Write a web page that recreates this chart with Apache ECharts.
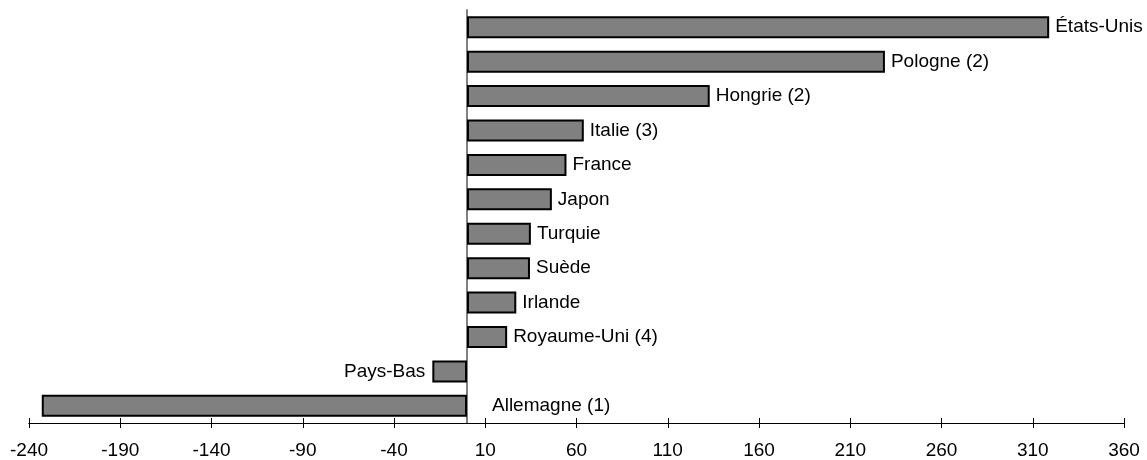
<!DOCTYPE html>
<html>
<head>
<meta charset="utf-8">
<script src="https://cdn.jsdelivr.net/npm/echarts@6/dist/echarts.min.js"></script>
<style>
html,body{margin:0;padding:0;background:#fff;}
#c{width:1147px;height:460px;}
</style>
</head>
<body>
<div id="c"></div>
<script>
const categories = ['États-Unis','Pologne (2)','Hongrie (2)','Italie (3)','France','Japon','Turquie','Suède','Irlande','Royaume-Uni (4)','Pays-Bas','Allemagne (1)'];
const values = [319, 229, 133, 64, 54.5, 46.5, 35, 34.5, 27, 22, -19, -233];
const xMin = -240, xMax = 360, xStep = 50;

const font = '"Liberation Sans", Arial, sans-serif';
const labelPlacement = {
  'Pays-Bas': {position: 'left', distance: 7},
  'Allemagne (1)': {position: 'right', distance: 25}
};
const data = categories.map((c, i) => {
  const lp = labelPlacement[c] || {position: 'right', distance: 6};
  return {value: values[i], name: c, label: {show: true, position: lp.position, distance: lp.distance}};
});

const chart = echarts.init(document.getElementById('c'), null, {renderer: 'canvas'});
const axisCommon = {
  type: 'value', min: xMin, max: xMax, interval: xStep, position: 'bottom',
  splitLine: {show: false},
  axisLine: {show: true, onZero: false, lineStyle: {color: '#000', width: 1}}
};
chart.setOption({
  animation: false,
  grid: {left: 29, right: 23, top: 10, bottom: 37},
  xAxis: [
    Object.assign({}, axisCommon, {
      axisTick: {show: true, inside: false, length: 5, lineStyle: {color: '#000'}},
      axisLabel: {show: true, margin: 18, color: '#000', fontSize: 19, fontFamily: font}
    }),
    Object.assign({}, axisCommon, {
      axisTick: {show: true, inside: true, length: 5, lineStyle: {color: '#000'}},
      axisLabel: {show: false}
    })
  ],
  yAxis: {
    type: 'category', data: categories, inverse: true,
    axisLine: {show: true, onZero: true, lineStyle: {color: '#808080', width: 2}},
    axisTick: {show: false}, axisLabel: {show: false}, splitLine: {show: false}
  },
  series: [{
    type: 'bar', xAxisIndex: 0, data: data, barWidth: 22,
    itemStyle: {color: '#808080', borderColor: '#000', borderWidth: 2},
    label: {show: true, formatter: '{b}', color: '#000', fontSize: 19, fontFamily: font}
  }]
});
</script>
</body>
</html>
